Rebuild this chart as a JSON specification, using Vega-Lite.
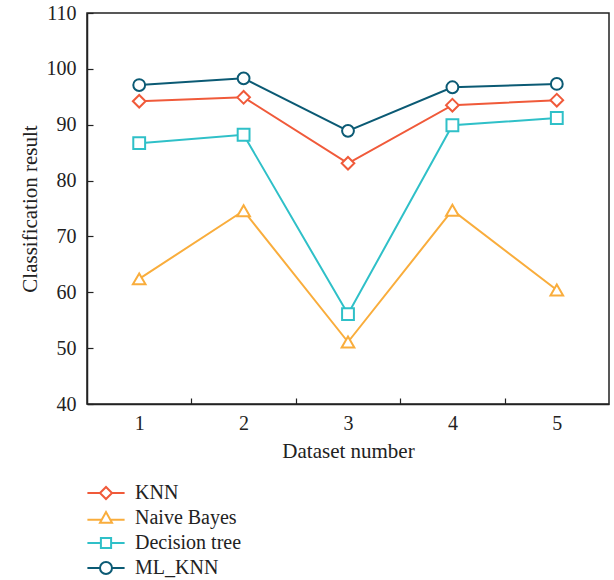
{
  "$schema": "https://vega.github.io/schema/vega-lite/v6.json",
  "width": 522,
  "height": 391,
  "autosize": {"type": "none"},
  "padding": {"left": 87, "top": 13, "right": 5, "bottom": 176},
  "config": {
    "font": "Liberation Serif",
    "view": {"stroke": "#222222", "strokeWidth": 1.5},
    "axis": {
      "grid": false,
      "domainColor": "#222222",
      "domainWidth": 1.5,
      "tickColor": "#222222",
      "tickWidth": 1.2,
      "labelFont": "Liberation Serif",
      "labelFontSize": 20,
      "labelColor": "#222222",
      "titleFont": "Liberation Serif",
      "titleFontSize": 21,
      "titleFontWeight": "normal",
      "titleColor": "#222222"
    }
  },
  "data": {
    "values": [
      {"dataset": 1, "series": "KNN", "value": 94.2},
      {"dataset": 2, "series": "KNN", "value": 94.9},
      {"dataset": 3, "series": "KNN", "value": 83.1},
      {"dataset": 4, "series": "KNN", "value": 93.5},
      {"dataset": 5, "series": "KNN", "value": 94.4},
      {"dataset": 1, "series": "Naive Bayes", "value": 62.4},
      {"dataset": 2, "series": "Naive Bayes", "value": 74.6},
      {"dataset": 3, "series": "Naive Bayes", "value": 51.1},
      {"dataset": 4, "series": "Naive Bayes", "value": 74.7},
      {"dataset": 5, "series": "Naive Bayes", "value": 60.4},
      {"dataset": 1, "series": "Decision tree", "value": 86.7},
      {"dataset": 2, "series": "Decision tree", "value": 88.2},
      {"dataset": 3, "series": "Decision tree", "value": 56.1},
      {"dataset": 4, "series": "Decision tree", "value": 89.9},
      {"dataset": 5, "series": "Decision tree", "value": 91.2},
      {"dataset": 1, "series": "ML_KNN", "value": 97.1},
      {"dataset": 2, "series": "ML_KNN", "value": 98.3},
      {"dataset": 3, "series": "ML_KNN", "value": 88.9},
      {"dataset": 4, "series": "ML_KNN", "value": 96.7},
      {"dataset": 5, "series": "ML_KNN", "value": 97.3}
    ]
  },
  "encoding": {
    "x": {
      "field": "dataset",
      "type": "quantitative",
      "scale": {"domain": [0.5, 5.5], "nice": false, "zero": false},
      "axis": {
        "title": "Dataset number",
        "values": [1, 1.5, 2, 2.5, 3, 3.5, 4, 4.5, 5],
        "labelExpr": "datum.value % 1 === 0 ? format(datum.value, 'd') : ''",
        "tickOpacity": {"condition": {"test": "datum.value % 1 === 0", "value": 0}, "value": 1},
        "tickSize": -6,
        "labelPadding": 15,
        "titlePadding": 7
      }
    },
    "y": {
      "field": "value",
      "type": "quantitative",
      "scale": {"domain": [40, 110], "nice": false, "zero": false},
      "axis": {
        "title": "Classification result",
        "values": [40, 50, 60, 70, 80, 90, 100, 110],
        "tickSize": -6,
        "labelPadding": 17,
        "titlePadding": 6
      }
    },
    "color": {
      "field": "series",
      "type": "nominal",
      "scale": {
        "domain": ["KNN", "Naive Bayes", "Decision tree", "ML_KNN"],
        "range": ["#f05a3a", "#f9ad3c", "#2fc0c8", "#0b5a74"]
      },
      "legend": {
        "title": null,
        "orient": "none",
        "legendX": 9,
        "legendY": 470,
        "direction": "vertical",
        "symbolSize": 144,
        "symbolStrokeWidth": 2,
        "symbolFillColor": "white",
        "symbolOpacity": 1,
        "labelOffset": 19,
        "rowPadding": 5,
        "labelFont": "Liberation Serif",
        "labelFontSize": 20,
        "labelColor": "#222222"
      }
    }
  },
  "layer": [
    {
      "mark": {"type": "point", "opacity": 0},
      "encoding": {
        "shape": {
          "field": "series",
          "type": "nominal",
          "scale": {
            "domain": ["KNN", "Naive Bayes", "Decision tree", "ML_KNN"],
            "range": [
              "M-3.1,0H-1 M1,0H3.1 M-1,0L0,-1L1,0L0,1Z",
              "M-3.1,0.3H-0.83 M0.83,0.3H3.1 M-1,0.8L0,-1L1,0.8Z",
              "M-3.1,0H-0.85 M0.85,0H3.1 M-0.85,-0.85H0.85V0.85H-0.85Z",
              "M-3.1,0H-1 M1,0H3.1 M-1,0A1,1 0 1,1 1,0A1,1 0 1,1 -1,0Z"
            ]
          }
        }
      }
    },
    {
      "mark": {"type": "line", "strokeWidth": 2}
    },
    {
      "transform": [{"filter": "datum.series === 'KNN'"}],
      "mark": {"type": "point", "shape": "diamond", "filled": false, "fill": "white", "fillOpacity": 1, "opacity": 1, "strokeWidth": 2, "size": 160}
    },
    {
      "transform": [{"filter": "datum.series === 'Naive Bayes'"}],
      "mark": {"type": "point", "shape": "triangle-up", "filled": false, "fill": "white", "fillOpacity": 1, "opacity": 1, "strokeWidth": 2, "size": 160}
    },
    {
      "transform": [{"filter": "datum.series === 'Decision tree'"}],
      "mark": {"type": "point", "shape": "square", "filled": false, "fill": "white", "fillOpacity": 1, "opacity": 1, "strokeWidth": 2, "size": 140}
    },
    {
      "transform": [{"filter": "datum.series === 'ML_KNN'"}],
      "mark": {"type": "point", "shape": "circle", "filled": false, "fill": "white", "fillOpacity": 1, "opacity": 1, "strokeWidth": 2, "size": 140}
    }
  ]
}
